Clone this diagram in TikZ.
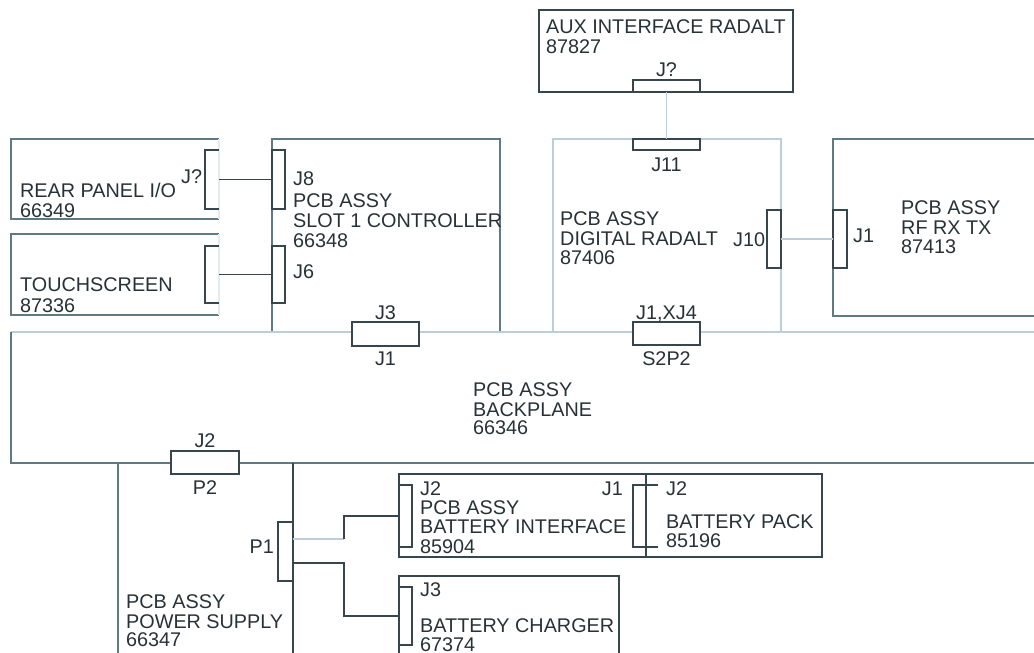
\documentclass[tikz,border=0pt]{standalone}
\usepackage{fontspec}
\setmainfont{Liberation Sans}
\definecolor{ink}{HTML}{283236}
\definecolor{dkc}{HTML}{36464C}
\definecolor{mdc}{HTML}{607A83}
\definecolor{ltc}{HTML}{BCCFD8}
\definecolor{vltc}{HTML}{E4ECEF}
\begin{document}
\begin{tikzpicture}[x=1pt,y=-1pt,
  t/.style={font=\fontsize{19.8}{20}\selectfont, text=ink, inner sep=0pt, anchor=base west},
  tc/.style={t, anchor=base},
  tr/.style={t, anchor=base east},
  blk/.style 2 args={inner sep=0pt, outer sep=0pt, minimum width=#1pt, minimum height=#2pt},
  dk/.style={draw=dkc, line width=1.5pt},
  md/.style={draw=mdc, line width=1.6pt},
  lt/.style={draw=ltc, line width=1.4pt},
  vlt/.style={draw=vltc, line width=1.2pt},
  conn/.style={draw=dkc, line width=1.3pt, fill=white},
  wire/.style={draw=dkc, line width=1.4pt}
]
\useasboundingbox (0,0) rectangle (1034,653);
\clip (0,0) rectangle (1034,653);
\fill[white] (0,0) rectangle (1034,653);

% ---- boxes (areas) ----
\node[blk={208}{80}]   (rear)  at (115,179) {};
\node[blk={208}{81}]   (touch) at (115,274.5) {};
\node[blk={228}{193}]  (ctrl)  at (386,235.5) {};
\node[blk={254}{82}]   (aux)   at (666,51) {};
\node[blk={228}{193}]  (dig)   at (667,235.5) {};
\node[blk={227}{177}]  (rf)    at (946.5,227.5) {};
\node[blk={1049}{131}] (back)  at (535.5,397.5) {};
\node[blk={175}{217}]  (ps)    at (205.5,571.5) {};
\node[blk={247}{83}]   (bint)  at (522.5,515.5) {};
\node[blk={176}{83}]   (bpack) at (734,515.5) {};
\node[blk={220}{104}]  (chg)   at (509,628) {};

% box outlines
\draw[md] (rear.north east) -- (rear.north west) -- (rear.south west) -- (rear.south east);
\draw[vlt] (rear.north east) -- (rear.south east);
\draw[md] (touch.north east) -- (touch.north west) -- (touch.south west) -- (touch.south east);
\draw[vlt] (touch.north east) -- (touch.south east);
\draw[md] (ctrl.south west) -- (ctrl.north west) -- (ctrl.north east) -- (ctrl.south east);
\draw[dk] (aux.south west) rectangle (aux.north east);
\draw[lt] (dig.south west) -- (dig.north west) -- (dig.north east) -- (dig.south east);
\draw[md] (rf.south east) -- (rf.south west) -- (rf.north west) -- (rf.north east);
\draw[lt] (back.north east) -- (back.north west);
\draw[md] (back.north west) -- (back.south west) -- (back.south east);
\draw[md] (ps.north west) -- (ps.south west);
\draw[dk] (ps.north east) -- (ps.south east);
\draw[dk] (bint.south west) rectangle (bint.north east);
\draw[dk] (bpack.south west) rectangle (bpack.north east);
\draw[dk] (chg.south west) rectangle (chg.north east);

% ---- connectors ----
\node[blk={67}{24}, conn] (cj3)   at (385.5,334) {};
\node[blk={67}{23}, conn] (cxj4)  at (666.5,333.5) {};
\node[blk={68}{23}, conn] (cp2)   at (205,462.5) {};
\node[blk={67}{12}, conn] (cauxj) at (666.5,86) {};
\node[blk={67}{11}, conn] (cj11)  at (666.5,144.5) {};
\node[blk={14}{58}, conn] (cj10)  at (774,239) {};
\node[blk={14}{58}, conn] (crfj1) at (840,239) {};
\node[blk={13}{59}, conn] (cj8)   at (278.5,179.5) {};
\node[blk={13}{57}, conn] (cj6)   at (278.5,274.5) {};
\node[blk={15}{59}, conn] (cp1)   at (285.5,551.5) {};
\node[blk={13}{62}, conn] (cbj2)  at (405.5,516) {};
\node[blk={13}{62}, conn] (cbj1)  at (639.5,516) {};
\node[blk={13}{58}, conn] (ccj3)  at (405.5,616) {};
\node[blk={14}{59}] (crj)  at (212,179.5) {};
\node[blk={14}{57}] (ctj)  at (212,274.5) {};
\node[blk={12}{62}] (cpj2) at (652,516) {};
\draw[wire] (crj.north east) -- (crj.north west) -- (crj.south west) -- (crj.south east);
\draw[wire] (ctj.north east) -- (ctj.north west) -- (ctj.south west) -- (ctj.south east);
\draw[wire] (cpj2.north west) -- (cpj2.north east) (cpj2.south west) -- (cpj2.south east);

% ---- wiring ----
\draw[wire] (crj.east) -- (cj8.west);
\draw[wire] (ctj.east) -- (cj6.west);
\draw[lt] (cauxj.south) -- (cj11.north);
\draw[lt] (cj10.east) -- (crfj1.west);
\draw[lt] ([yshift=12.5pt]cp1.east) -- ++(51,0) coordinate (pa);
\draw[wire] (pa) |- (cbj2.west);
\draw[wire] ([yshift=-11.5pt]cp1.east) -- ++(51,0) |- (ccj3.west);

% ---- texts ----
\node[t] (rear1) at (20,197.5) {REAR PANEL I/O};
\node[t] (rear2) at (20,217.5) {66349};
\node[t] (rearj) at (181,183.5) {J?};
\node[t] (touch1) at (20,291.5) {TOUCHSCREEN};
\node[t] (touch2) at (20,312.5) {87336};
\node[t] (ctrlj8) at (293,185.5) {J8};
\node[t] (ctrl1) at (293,207.5) {PCB ASSY};
\node[t] (ctrl2) at (293,227.5) {SLOT 1 CONTROLLER};
\node[t] (ctrl3) at (293,247.5) {66348};
\node[t] (ctrlj6) at (293,278.5) {J6};
\node[tc] (lj3) at (385.5,319.5) {J3};
\node[tc] (lj1) at (385.5,365.5) {J1};
\node[t] (aux1) at (546,33.5) {AUX INTERFACE RADALT};
\node[t] (aux2) at (546,53.5) {87827};
\node[tc] (auxj) at (666.5,76.5) {J?};
\node[tc] (lj11) at (666.5,171.5) {J11};
\node[t] (dig1) at (560,225.5) {PCB ASSY};
\node[t] (dig2) at (560,245.5) {DIGITAL RADALT};
\node[t] (dig3) at (560,264.5) {87406};
\node[t] (lj10) at (733,246.5) {J10};
\node[t] (rfj1) at (853,242.5) {J1};
\node[t] (rf1) at (901,214.5) {PCB ASSY};
\node[t] (rf2) at (901,234.5) {RF RX TX};
\node[t] (rf3) at (901,253.5) {87413};
\node[tc] (lxj4) at (666.5,319.5) {J1,XJ4};
\node[tc] (ls2p2) at (666.5,365.5) {S2P2};
\node[t] (back1) at (473,396.5) {PCB ASSY};
\node[t] (back2) at (473,416.5) {BACKPLANE};
\node[t] (back3) at (473,434.5) {66346};
\node[tc] (lj2) at (205,447.5) {J2};
\node[tc] (lp2) at (205,494.5) {P2};
\node[tr] (lp1) at (274,553.5) {P1};
\node[t] (ps1) at (126,608.5) {PCB ASSY};
\node[t] (ps2) at (126,628.5) {POWER SUPPLY};
\node[t] (ps3) at (126,646.5) {66347};
\node[t] (bintj2) at (420,495.5) {J2};
\node[t] (bint1) at (420,514.5) {PCB ASSY};
\node[t] (bint2) at (420,533.5) {BATTERY INTERFACE};
\node[t] (bint3) at (420,553.5) {85904};
\node[tr] (bintj1) at (623,495.5) {J1};
\node[t] (bpackj2) at (666,495.5) {J2};
\node[t] (bpack1) at (666,528.5) {BATTERY PACK};
\node[t] (bpack2) at (666,547.5) {85196};
\node[t] (chgj3) at (420,596.5) {J3};
\node[t] (chg1) at (420,632.5) {BATTERY CHARGER};
\node[t] (chg2) at (420,651.5) {67374};
\end{tikzpicture}
\end{document}
